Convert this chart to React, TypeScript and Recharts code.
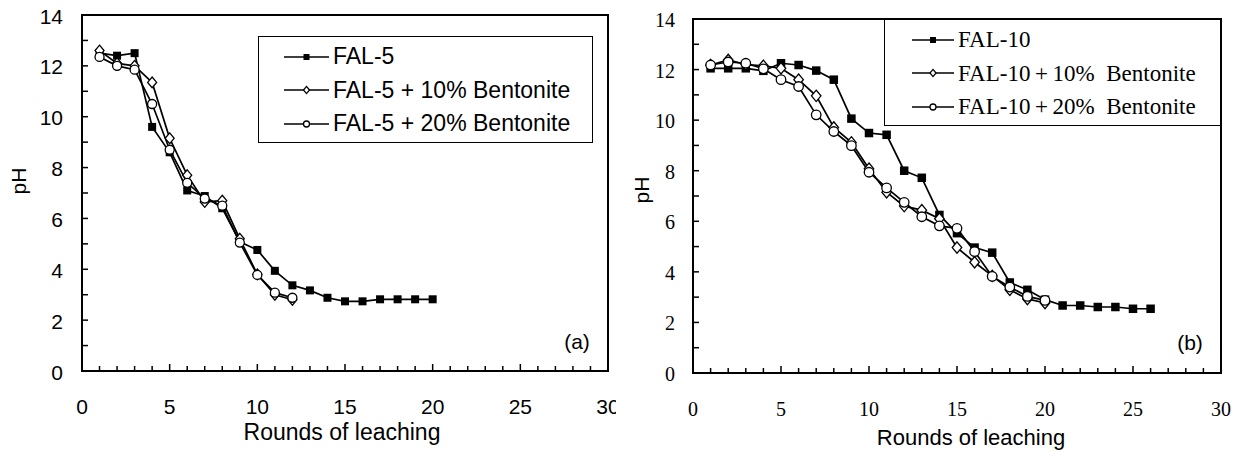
import React from 'react';
import { LineChart, Line, XAxis, YAxis, ReferenceArea, Legend } from 'recharts';

// rounds of leaching (x values)
const rounds = [1, 2, 3, 4, 5, 6, 7, 8, 9, 10, 11, 12, 13, 14, 15, 16, 17, 18, 19, 20, 21, 22, 23, 24, 25, 26];

// panel (a)
const fal5 = [12.5, 12.4, 12.5, 9.6, 8.6, 7.1, 6.88, 6.4, 5.08, 4.76, 3.94, 3.37, 3.17, 2.88, 2.74, 2.74, 2.82, 2.82, 2.82, 2.82];
const fal5Bent10 = [12.6, 12.1, 12.0, 11.35, 9.15, 7.7, 6.65, 6.7, 5.2, 3.8, 3.0, 2.8];
const fal5Bent20 = [12.35, 12.0, 11.85, 10.5, 8.7, 7.4, 6.78, 6.5, 5.05, 3.78, 3.08, 2.88];

// panel (b)
const fal10 = [12.05, 12.05, 12.05, 11.95, 12.25, 12.18, 11.96, 11.6, 10.06, 9.49, 9.42, 8.0, 7.72, 6.25, 5.53, 4.96, 4.76, 3.58, 3.29, 2.9, 2.67, 2.67, 2.61, 2.61, 2.54, 2.54];
const fal10Bent10 = [12.18, 12.38, 12.2, 12.15, 12.05, 11.6, 10.96, 9.71, 9.12, 8.08, 7.15, 6.6, 6.44, 6.1, 4.96, 4.38, 3.84, 3.29, 2.93, 2.77];
const fal10Bent20 = [12.18, 12.3, 12.25, 12.03, 11.6, 11.33, 10.21, 9.55, 8.99, 7.94, 7.32, 6.75, 6.18, 5.82, 5.72, 4.8, 3.82, 3.4, 3.03, 2.87];

const namesA = ['FAL-5', 'FAL-5 + 10% Bentonite', 'FAL-5 + 20% Bentonite'];
const namesB = ['FAL-10', 'FAL-10\u2009+\u200910%  Bentonite', 'FAL-10\u2009+\u200920%  Bentonite'];

const xTicks = [0, 1, 2, 3, 4, 5, 6, 7, 8, 9, 10, 11, 12, 13, 14, 15, 16, 17, 18, 19, 20, 21, 22, 23, 24, 25, 26, 27, 28, 29, 30];
const yTicks = [0, 1, 2, 3, 4, 5, 6, 7, 8, 9, 10, 11, 12, 13, 14];

const SANS = '"Liberation Sans", Arial, sans-serif';
const SERIF = '"Liberation Serif", "Times New Roman", serif';

const toPoints = (values: number[]) => values.map((v, i) => ({ round: rounds[i], pH: v }));

type Shape = 'square' | 'diamond' | 'circle';
const shapes: Shape[] = ['square', 'diamond', 'circle'];

const marker = (shape: Shape, cx: number, cy: number, s: number, key?: any) => {
  if (shape === 'square')
    return <rect key={key} x={cx - s / 2} y={cy - s / 2} width={s} height={s} fill="#000" />;
  if (shape === 'diamond')
    return (
      <polygon
        key={key}
        points={`${cx},${cy - s * 0.6} ${cx + s / 2},${cy} ${cx},${cy + s * 0.6} ${cx - s / 2},${cy}`}
        fill="#fff"
        stroke="#000"
        strokeWidth={1.3}
      />
    );
  return <circle key={key} cx={cx} cy={cy} r={s / 2} fill="#fff" stroke="#000" strokeWidth={1.3} />;
};

const dotFor = (shape: Shape, s: number) => (props: any) => {
  const { cx, cy, index } = props;
  if (cx == null || cy == null) return <g key={index} />;
  return marker(shape, cx, cy, s, index);
};

interface PanelProps {
  series: number[][];
  names: string[];
  width: number;
  top: number;
  right: number;
  yWidth: number;
  xHeight: number;
  tickFont: string;
  tickSize: number;
  xLabelOffset: number;
  yLabelGap: number;
  legend: { left: number; top: number; width: number; pad: number; icon: number; font: string; size: number };
  pH: { x: number; y: number };
  title: { x: number; y: number; size: number };
  tag: { x: number; y: number; text: string };
  markSize: number;
}

const Panel: React.FC<PanelProps> = (p) => {
  const XTick = (props: any) => {
    const { x, y, payload } = props;
    const v = payload.value;
    const major = v % 5 === 0;
    return (
      <g>
        <line x1={x} x2={x} y1={y} y2={y - (major ? 7 : 5)} stroke="#000" strokeWidth={1.5} />
        {major && (
          <text x={x} y={y + p.xLabelOffset} textAnchor="middle" dominantBaseline="central"
            fontFamily={p.tickFont} fontSize={p.tickSize} fill="#000">{v}</text>
        )}
      </g>
    );
  };

  const YTick = (props: any) => {
    const { x, y, payload } = props;
    const v = payload.value;
    return (
      <g>
        <line x1={x} x2={x + 6} y1={y} y2={y} stroke="#000" strokeWidth={1.5} />
        {v % 2 === 0 && (
          <text x={x - p.yLabelGap} y={y + 1} textAnchor="end" dominantBaseline="central"
            fontFamily={p.tickFont} fontSize={p.tickSize} fill="#000">{v}</text>
        )}
      </g>
    );
  };

  const renderLegend = () => (
    <div
      style={{
        width: p.legend.width,
        height: 107,
        boxSizing: 'border-box',
        border: '1.5px solid #000',
        background: '#fff',
        paddingTop: 3,
      }}
    >
      {p.names.map((name, i) => (
        <div key={name} style={{ display: 'flex', alignItems: 'center', height: 33.5, paddingLeft: p.legend.pad }}>
          <svg width={p.legend.icon} height={12} style={{ display: 'block' }}>
            <line x1={0} x2={p.legend.icon} y1={6} y2={6} stroke="#000" strokeWidth={1.5} />
            {marker(shapes[i], p.legend.icon / 2, 6, 6)}
          </svg>
          <span
            style={{
              marginLeft: 4,
              fontFamily: p.legend.font,
              fontSize: p.legend.size,
              color: '#000',
              whiteSpace: 'pre',
              lineHeight: 1,
            }}
          >
            {name}
          </span>
        </div>
      ))}
    </div>
  );

  return (
    <LineChart width={p.width} height={452} margin={{ top: p.top, right: p.right, bottom: 0, left: 0 }}>
      <ReferenceArea
        x1={0}
        x2={30}
        y1={0}
        y2={14}
        fill="none"
        stroke="#000"
        strokeWidth={2}
        label={{
          content: () => (
            <text x={p.tag.x} y={p.tag.y} textAnchor="middle" dominantBaseline="central"
              fontFamily={SANS} fontSize={21} fill="#000">{p.tag.text}</text>
          ),
        }}
      />
      <XAxis
        type="number"
        dataKey="round"
        domain={[0, 30]}
        ticks={xTicks}
        interval={0}
        height={p.xHeight}
        axisLine={false}
        tickLine={false}
        tickSize={0}
        tickMargin={0}
        tick={XTick}
        label={{
          content: () => (
            <text x={p.title.x} y={p.title.y} textAnchor="middle" dominantBaseline="central"
              fontFamily={SANS} fontSize={p.title.size} fill="#000">Rounds of leaching</text>
          ),
        }}
      />
      <YAxis
        type="number"
        domain={[0, 14]}
        ticks={yTicks}
        interval={0}
        width={p.yWidth}
        axisLine={false}
        tickLine={false}
        tickSize={0}
        tickMargin={0}
        tick={YTick}
        label={{
          content: () => (
            <text x={p.pH.x} y={p.pH.y} textAnchor="middle" dominantBaseline="central"
              transform={`rotate(-90 ${p.pH.x} ${p.pH.y})`}
              fontFamily={SANS} fontSize={21} fill="#000">pH</text>
          ),
        }}
      />
      <Legend
        layout="horizontal"
        verticalAlign="middle"
        align="center"
        content={renderLegend}
        wrapperStyle={{ left: p.legend.left, top: p.legend.top, width: p.legend.width, height: 107 }}
      />
      {p.series.map((vals, i) => (
        <Line
          key={p.names[i]}
          data={toPoints(vals)}
          dataKey="pH"
          name={p.names[i]}
          stroke="#000"
          strokeWidth={1.7}
          dot={dotFor(shapes[i], shapes[i] === 'square' ? p.markSize : p.markSize + 1)}
          activeDot={false}
          isAnimationActive={false}
        />
      ))}
    </LineChart>
  );
};

export default function App() {
  return (
    <div style={{ position: 'absolute', left: 0, top: 0, width: 1241, height: 452, background: '#fff', overflow: 'hidden' }}>
      <div style={{ position: 'absolute', left: 0, top: 0 }}>
        <Panel
          series={[fal5, fal5Bent10, fal5Bent20]}
          names={namesA}
          width={620}
          top={15}
          right={12}
          yWidth={82}
          xHeight={81}
          tickFont={SANS}
          tickSize={21}
          xLabelOffset={35}
          yLabelGap={19}
          legend={{ left: 258, top: 36, width: 335, pad: 25, icon: 45, font: SANS, size: 23 }}
          pH={{ x: 18, y: 181 }}
          title={{ x: 342, y: 432, size: 23 }}
          tag={{ x: 577, y: 341, text: '(a)' }}
          markSize={8}
        />
      </div>
      <div style={{ position: 'absolute', left: 616, top: 0, background: '#fff' }}>
        <Panel
          series={[fal10, fal10Bent10, fal10Bent20]}
          names={namesB}
          width={625}
          top={19}
          right={20}
          yWidth={77}
          xHeight={79}
          tickFont={SERIF}
          tickSize={20}
          xLabelOffset={36}
          yLabelGap={18}
          legend={{ left: 268, top: 19, width: 337, pad: 27, icon: 42, font: SERIF, size: 23 }}
          pH={{ x: 25, y: 190 }}
          title={{ x: 355, y: 437, size: 22 }}
          tag={{ x: 574, y: 342, text: '(b)' }}
          markSize={8.5}
        />
      </div>
    </div>
  );
}
